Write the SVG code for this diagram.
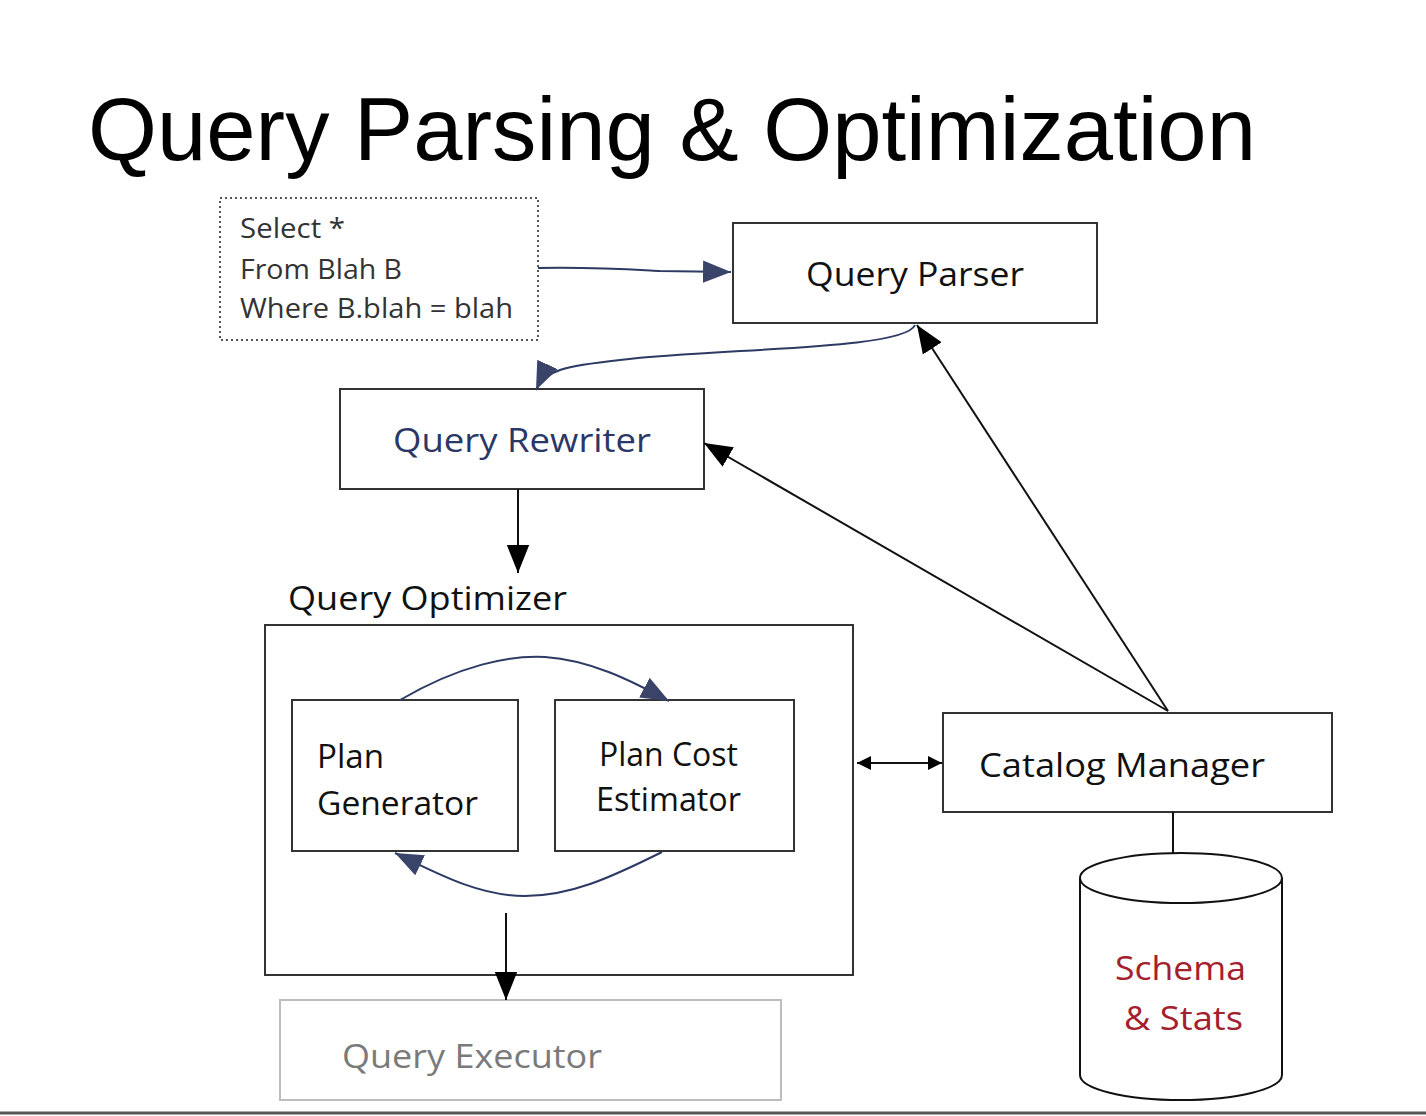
<svg xmlns="http://www.w3.org/2000/svg" width="1426" height="1116" viewBox="0 0 1426 1116">
<defs>
<style>
.box{fill:#fff;stroke:#333;stroke-width:2}
.t{font-family:"Open Sans","Noto Sans",sans-serif;font-size:33px;fill:#111}
.s{font-family:"Open Sans","Noto Sans",sans-serif;font-size:27px;fill:#333}
.blk{fill:none;stroke:#111;stroke-width:2}
.nav{fill:none;stroke:#2d3a63;stroke-width:2}
</style>
<marker id="ab" viewBox="0 0 10 10" refX="10" refY="5" markerWidth="14" markerHeight="14" markerUnits="userSpaceOnUse" orient="auto"><path d="M0,0 L10,5 L0,10 z" fill="#000"/></marker>
<marker id="abL" viewBox="0 0 10 10" refX="10" refY="5" markerWidth="28" markerHeight="28" markerUnits="userSpaceOnUse" orient="auto"><path d="M0,1 L10,5 L0,9 z" fill="#000"/></marker>
<marker id="an" viewBox="0 0 10 10" refX="10" refY="5" markerWidth="28" markerHeight="28" markerUnits="userSpaceOnUse" orient="auto"><path d="M0,1 L10,5 L0,9 z" fill="#3a4468"/></marker>
</defs>
<rect width="1426" height="1116" fill="#fff"/>
<text x="88" y="160" font-family="Liberation Sans, Arial, sans-serif" font-size="89" fill="#000" textLength="1168" lengthAdjust="spacingAndGlyphs">Query Parsing &amp; Optimization</text>

<g id="sql">
<rect x="220" y="198" width="318" height="142" fill="#fff" stroke="#555" stroke-width="2" stroke-dasharray="2,3"/>
<text class="s" x="240" y="238" textLength="105" lengthAdjust="spacingAndGlyphs">Select *</text>
<text class="s" x="240" y="279" textLength="162" lengthAdjust="spacingAndGlyphs">From Blah B</text>
<text class="s" x="240" y="318" textLength="273" lengthAdjust="spacingAndGlyphs">Where B.blah = blah</text>
</g>

<g id="parser">
<rect class="box" x="733" y="223" width="364" height="100"/>
<text class="t" x="806" y="286" textLength="218" lengthAdjust="spacingAndGlyphs">Query Parser</text>
</g>

<g id="rewriter">
<rect class="box" x="340" y="389" width="364" height="100"/>
<text class="t" x="393" y="452" fill="#2b3766" style="fill:#2b3766" textLength="258" lengthAdjust="spacingAndGlyphs">Query Rewriter</text>
</g>

<g id="optimizer">
<text class="t" x="288" y="610" textLength="279" lengthAdjust="spacingAndGlyphs">Query Optimizer</text>
<rect class="box" x="265" y="625" width="588" height="350"/>
</g>

<g id="plangen">
<rect class="box" x="292" y="700" width="226" height="151"/>
<text class="t" x="317" y="768" textLength="67" lengthAdjust="spacingAndGlyphs">Plan</text>
<text class="t" x="317" y="815" textLength="161" lengthAdjust="spacingAndGlyphs">Generator</text>
</g>

<g id="costest">
<rect class="box" x="555" y="700" width="239" height="151"/>
<text class="t" x="599" y="766" textLength="139" lengthAdjust="spacingAndGlyphs">Plan Cost</text>
<text class="t" x="596" y="811" textLength="145" lengthAdjust="spacingAndGlyphs">Estimator</text>
</g>

<g id="executor">
<rect x="280" y="1000" width="501" height="100" fill="#fff" stroke="#bdbdbd" stroke-width="2"/>
<text class="t" x="342" y="1068" style="fill:#7a7a7a" textLength="260" lengthAdjust="spacingAndGlyphs">Query Executor</text>
</g>

<g id="catalog">
<rect class="box" x="943" y="713" width="389" height="99"/>
<text class="t" x="979" y="777" textLength="286" lengthAdjust="spacingAndGlyphs">Catalog Manager</text>
</g>

<g id="schema">
<path d="M1080,878 L1080,1075 A101,25 0 0 0 1282,1075 L1282,878" fill="#fff" stroke="#111" stroke-width="2"/>
<ellipse cx="1181" cy="878" rx="101" ry="25" fill="#fff" stroke="#111" stroke-width="2"/>
<text class="t" x="1115" y="980" style="fill:#a3202c" textLength="131" lengthAdjust="spacingAndGlyphs">Schema</text>
<text class="t" x="1124" y="1030" style="fill:#a3202c" textLength="119" lengthAdjust="spacingAndGlyphs">&amp; Stats</text>
</g>

<g id="connectors">
<path class="nav" d="M538,268 C600,267 640,270 660,271 L731,272" marker-end="url(#an)"/>
<path class="nav" d="M915,325 C905,350 720,348 620,360 C565,366 545,370 536,390" marker-end="url(#an)"/>
<path class="blk" d="M518,489 L518,573" marker-end="url(#abL)"/>
<path class="nav" d="M400,700 C460,665 510,655 545,657 C590,660 630,680 669,701" marker-end="url(#an)"/>
<path class="nav" d="M662,852 C610,878 570,896 525,896 C480,896 440,875 395,853" marker-end="url(#an)"/>
<path class="blk" d="M506,913 L506,1000" marker-end="url(#abL)"/>
<path class="blk" d="M900,763 L857,763" marker-end="url(#ab)"/>
<path class="blk" d="M900,763 L942,763" marker-end="url(#ab)"/>
<path class="blk" d="M1168,711 L917,325" marker-end="url(#abL)"/>
<path class="blk" d="M1168,711 L704,443" marker-end="url(#abL)"/>
<path class="blk" d="M1173,812 L1173,853"/>
</g>
<line x1="0" y1="1113" x2="1426" y2="1113" stroke="#555" stroke-width="3"/>
</svg>
